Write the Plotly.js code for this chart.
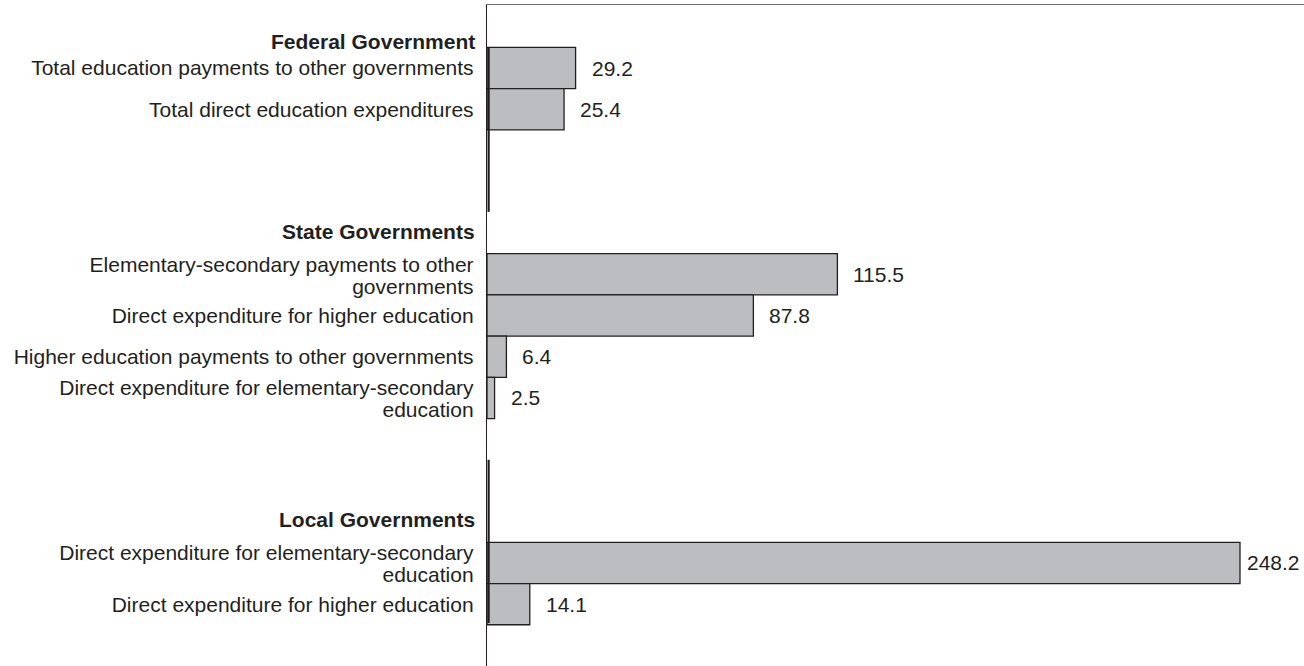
<!DOCTYPE html>
<html>
<head>
<meta charset="utf-8">
<script src="https://cdn.plot.ly/plotly-3.0.1.min.js"></script>
<style>html,body{margin:0;padding:0;background:#fff;}#chart{width:1304px;height:666px;}</style>
</head>
<body>
<div id="chart"></div>
<script>
const groupNames = ["Federal Government", "State Governments", "Local Governments"];
const federalLabels = ["Total education payments to other governments", "Total direct education expenditures"];
const federalValues = [29.2, 25.4];
const stateLabels = ["Elementary-secondary payments to other<br>governments", "Direct expenditure for higher education", "Higher education payments to other governments", "Direct expenditure for elementary-secondary<br>education"];
const stateValues = [115.5, 87.8, 6.4, 2.5];
const localLabels = ["Direct expenditure for elementary-secondary<br>education", "Direct expenditure for higher education"];
const localValues = [248.2, 14.1];

const groups = [[federalLabels, federalValues], [stateLabels, stateValues], [localLabels, localValues]];
const GAP = 3;
const ys = [], xs = [], labels = [];
let row = 0;
groups.forEach(g => {
  g[0].forEach((lab, i) => { ys.push(row); xs.push(g[1][i]); labels.push(lab); row++; });
  row += GAP;
});

const FONT = "Liberation Sans, Arial, sans-serif";
const TXT = "#231f20";
const FS = 21;
const maxVal = Math.max(...xs);

const annotations = xs.map((v, i) => ({
  x: v, y: ys[i], xref: "x", yref: "y", text: v.toFixed(1), showarrow: false,
  xanchor: "left", yanchor: "middle", xshift: v === maxVal ? 5 : 14,
  font: {family: FONT, size: FS, color: TXT}
}));
const headerY = [0.945, 0.658, 0.221];
groupNames.forEach((g, i) => annotations.push({
  x: 0, y: headerY[i], xref: "paper", yref: "paper", text: "<b>" + g + "</b>", showarrow: false,
  xanchor: "right", yanchor: "middle", xshift: -10, font: {family: FONT, size: FS, color: TXT}
}));

const trace = {
  type: "bar", orientation: "h", x: xs, y: ys, width: 1,
  marker: {color: "#bcbdc1", line: {color: "#231f20", width: 1.3}},
  hoverinfo: "none"
};

const layout = {
  width: 1304, height: 666,
  margin: {l: 487, r: 0, t: 5, b: 0, pad: 0},
  paper_bgcolor: "#fff", plot_bgcolor: "#fff",
  showlegend: false,
  xaxis: {range: [0, 269.3], side: "top", showline: true, linecolor: "#6d6e70", linewidth: 1.5,
          showgrid: false, zeroline: false, showticklabels: false, ticks: ""},
  yaxis: {range: [14.5, -1.53], showline: true, linecolor: "#231f20", linewidth: 1.2,
          showgrid: false, zeroline: false, ticks: "", tickvals: ys, ticktext: labels,
          ticklabelstandoff: 8, tickfont: {family: FONT, size: FS, color: TXT}},
  shapes: [
    {type: "line", xref: "paper", yref: "paper", x0: 0.002, x1: 0.002, y0: 0.935, y1: 0.687, line: {color: "#231f20", width: 2.2}},
    {type: "line", xref: "paper", yref: "paper", x0: 0.002, x1: 0.002, y0: 0.312, y1: 0.065, line: {color: "#231f20", width: 2.2}}
  ],
  annotations: annotations
};

Plotly.newPlot("chart", [trace], layout, {staticPlot: true}).then(gd => {
  // adjust line spacing of two-line tick labels to match the reference
  gd.querySelectorAll(".ytick text").forEach(t => {
    const lines = t.querySelectorAll("tspan.line");
    if (lines.length > 1) {
      lines.forEach((ln, i) => ln.setAttribute("dy", i === 0 ? "0.17em" : "1.22em"));
    }
  });
});
</script>
</body>
</html>
